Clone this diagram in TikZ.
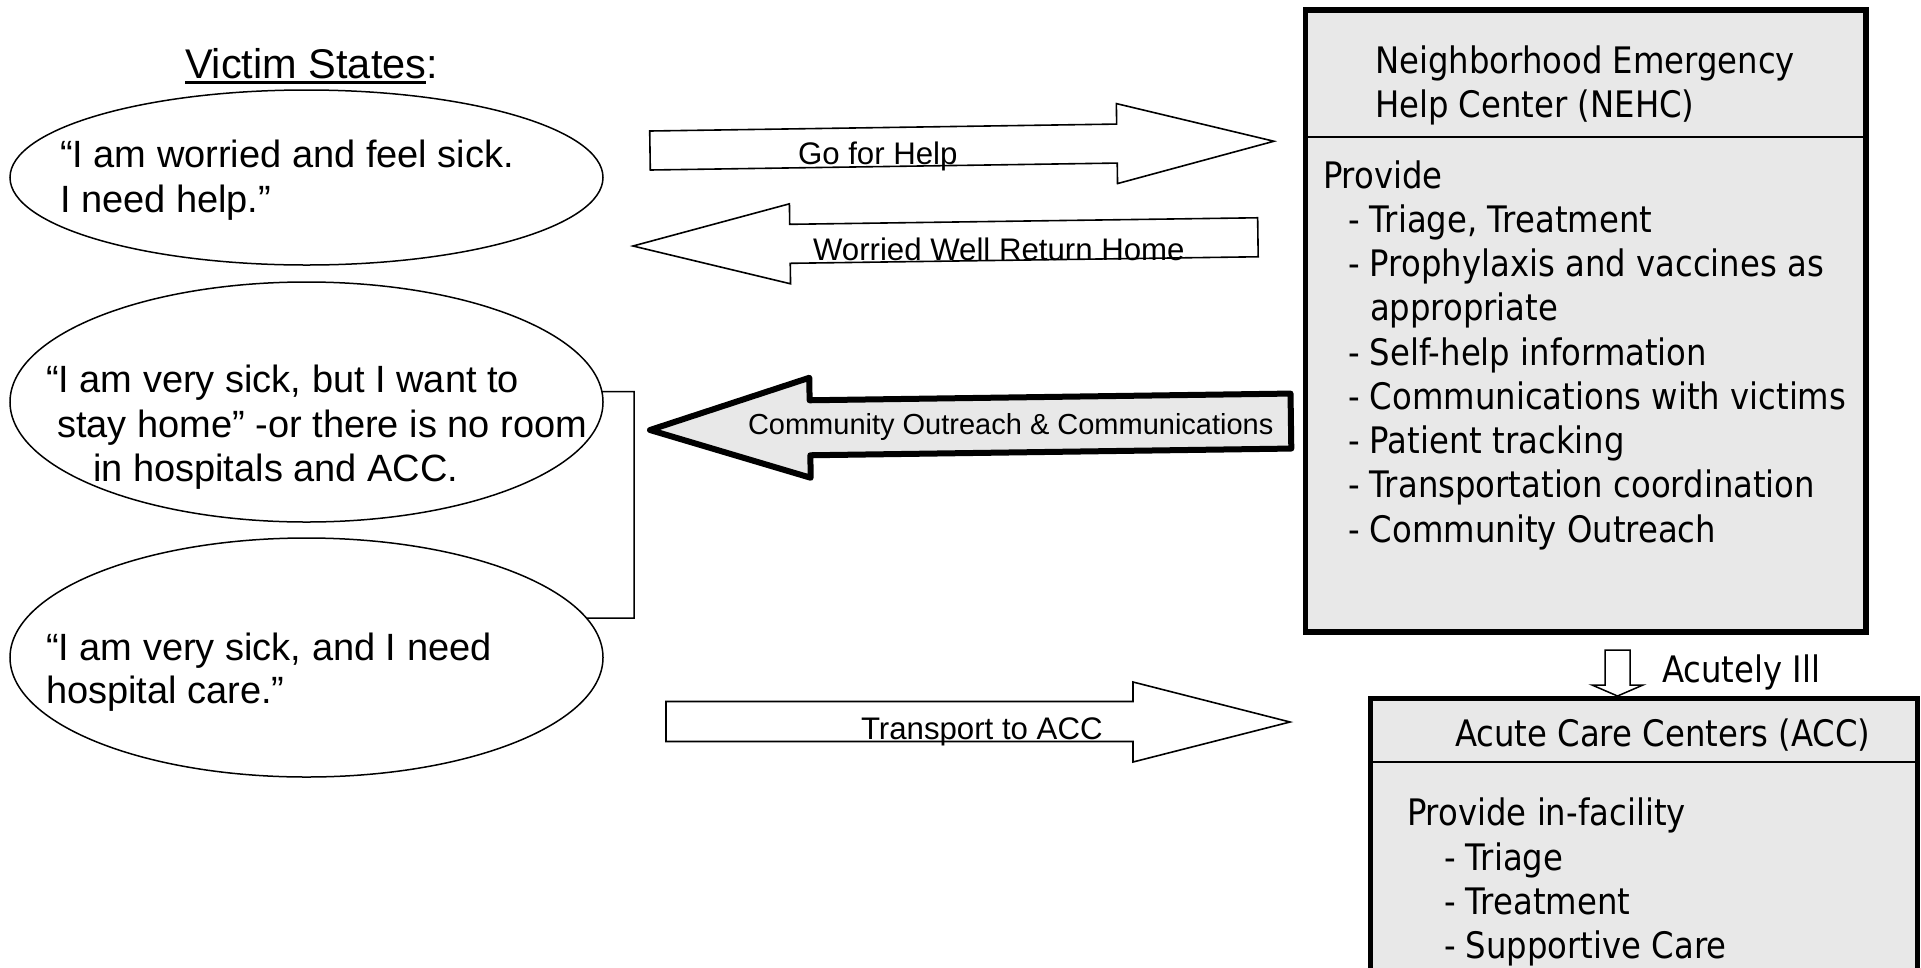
\documentclass[tikz,border=0pt]{standalone}
\usepackage{fontspec}
\setmainfont{Liberation Sans}
\newfontfamily\boxfont[FakeStretch=0.885]{DejaVu Sans}
\usetikzlibrary{shapes.geometric,calc}
\definecolor{boxgray}{RGB}{232,232,232}
\tikzset{
  victim/.style={ellipse, draw, line width=1.5pt, inner sep=0pt, outer sep=0pt},
  txt/.style={anchor=base west, inner sep=0pt, outer sep=0pt, font=\fontsize{38}{44}\selectfont},
  lbl/.style={anchor=base west, inner sep=0pt, outer sep=0pt, font=\fontsize{31.2}{36}\selectfont},
  bx/.style={anchor=base west, inner sep=0pt, outer sep=0pt, font=\boxfont\fontsize{36.5}{44}\selectfont},
  blockarrow/.style={draw, line width=1.6pt, fill=white, line join=miter},
  bigarrow/.style={draw, line width=6pt, fill=boxgray, line join=round},
  centerbox/.style={rectangle, draw, line width=5.5pt, fill=boxgray, inner sep=0pt, outer sep=0pt, anchor=north west},
  divider/.style={line width=2pt},
}
\begin{document}
\begin{tikzpicture}[x=1pt,y=-1pt]
\useasboundingbox (0,0) rectangle (1921,967);
\clip (0,0) rectangle (1921,967);

% title
\node[anchor=base west, inner sep=0pt, outer sep=0pt, font=\fontsize{41.5}{48}\selectfont] (vs) at (185,78) {Victim States};
\node[anchor=base west, inner sep=0pt, outer sep=0pt, font=\fontsize{41.5}{48}\selectfont] (colon) at (vs.base east) {:};
\draw[line width=3.5pt] ([yshift=-4.5pt]vs.base west) -- ([yshift=-4.5pt]vs.base east);

% victim ellipses
\node[victim, minimum width=593pt, minimum height=175pt] (e1) at (306.5,177.5) {};
\node[victim, minimum width=593pt, minimum height=240pt] (e2) at (306.5,402) {};
\node[victim, minimum width=593pt, minimum height=239pt] (e3) at (306.5,657.5) {};

\node[txt] (e1a) at (60,167) {“I am worried and feel sick.};
\node[txt] (e1b) at (60,212) {I need help.”};
\node[txt] (e2a) at (46,392) {“I am very sick, but I want to};
\node[txt] (e2b) at (57,437) {stay home” -or there is no room};
\node[txt] (e2c) at (93,481) {in hospitals and ACC.};
\node[txt] (e3a) at (46,660) {“I am very sick, and I need};
\node[txt] (e3b) at (46,703) {hospital care.”};

% bracket joining the two lower ellipses
\coordinate (b2) at (634,618);
\draw[line width=1.5pt] (e2.2) -| (b2) -- (e3.8);

% NEHC box
\node[centerbox, minimum width=560.5pt, minimum height=622pt] (nehc) at (1305.5,10) {};
\draw[divider] (nehc.west |- 0,137) -- (nehc.east |- 0,137);
\node[bx] (h1) at (1375,73) {Neighborhood Emergency};
\node[bx] (h2) at (1375,117) {Help Center (NEHC)};
\node[bx] (n0) at (1323,188) {Provide};
\node[bx] (n1) at (1348,232.5) {- Triage, Treatment};
\node[bx] (n2) at (1348,276.5) {- Prophylaxis and vaccines as};
\node[bx] (n3) at (1370,320.5) {appropriate};
\node[bx] (n4) at (1348,365) {- Self-help information};
\node[bx] (n5) at (1348,409) {- Communications with victims};
\node[bx] (n6) at (1348,453) {- Patient tracking};
\node[bx] (n7) at (1348,497.5) {- Transportation coordination};
\node[bx] (n8) at (1348,542) {- Community Outreach};

% ACC box
\node[centerbox, line width=5pt, minimum width=547pt, minimum height=300pt] (acc) at (1370,698) {};
\draw[divider] (acc.west |- 0,762) -- (acc.east |- 0,762);
\node[bx] (a0) at (1455,746) {Acute Care Centers (ACC)};
\node[bx] (a1) at (1407,825) {Provide in-facility};
\node[bx] (a2) at (1444,870) {- Triage};
\node[bx] (a3) at (1444,914) {- Treatment};
\node[bx] (a4) at (1444,958) {- Supportive Care};

% Acutely Ill arrow
\draw[blockarrow, line width=1.5pt] (1605,650) -- (1630,650) -- (1630,685) -- (1643,685) -- (1617.5,696) -- (1592,685) -- (1605,685) -- cycle;
\node[bx] (ill) at (1662,682) {Acutely Ill};

% Go for Help
\begin{scope}[rotate around={0.85:(650,150.5)}]
\draw[blockarrow] (650,131) -- (1117,131) -- (1117,110.5) -- (1274,150.5) -- (1117,190.5) -- (1117,170) -- (650,170) -- cycle;
\end{scope}
\node[lbl] (lgo) at (798,164) {Go for Help};

% Worried Well Return Home
\begin{scope}[rotate around={0.8:(633,246)}]
\draw[blockarrow] (633,246) -- (790,206) -- (790,226.5) -- (1258,226.5) -- (1258,265.5) -- (790,265.5) -- (790,286) -- cycle;
\end{scope}
\node[lbl] (lww) at (813,260) {Worried Well Return Home};

% Community Outreach & Communications
\begin{scope}[rotate around={0.8:(650,430)}]
\draw[bigarrow] (650,430) -- (810,380) -- (810,402.5) -- (1291,402.5) -- (1291,457.5) -- (810,457.5) -- (810,480) -- cycle;
\end{scope}
\node[lbl, font=\fontsize{29}{34}\selectfont] (lco) at (748,434) {Community Outreach \& Communications};

% Transport to ACC
\draw[blockarrow] (666,701.5) -- (1133,701.5) -- (1133,682) -- (1290,722) -- (1133,762) -- (1133,741.5) -- (666,741.5) -- cycle;
\node[lbl] (ltr) at (861,739) {Transport to ACC};
\end{tikzpicture}
\end{document}
